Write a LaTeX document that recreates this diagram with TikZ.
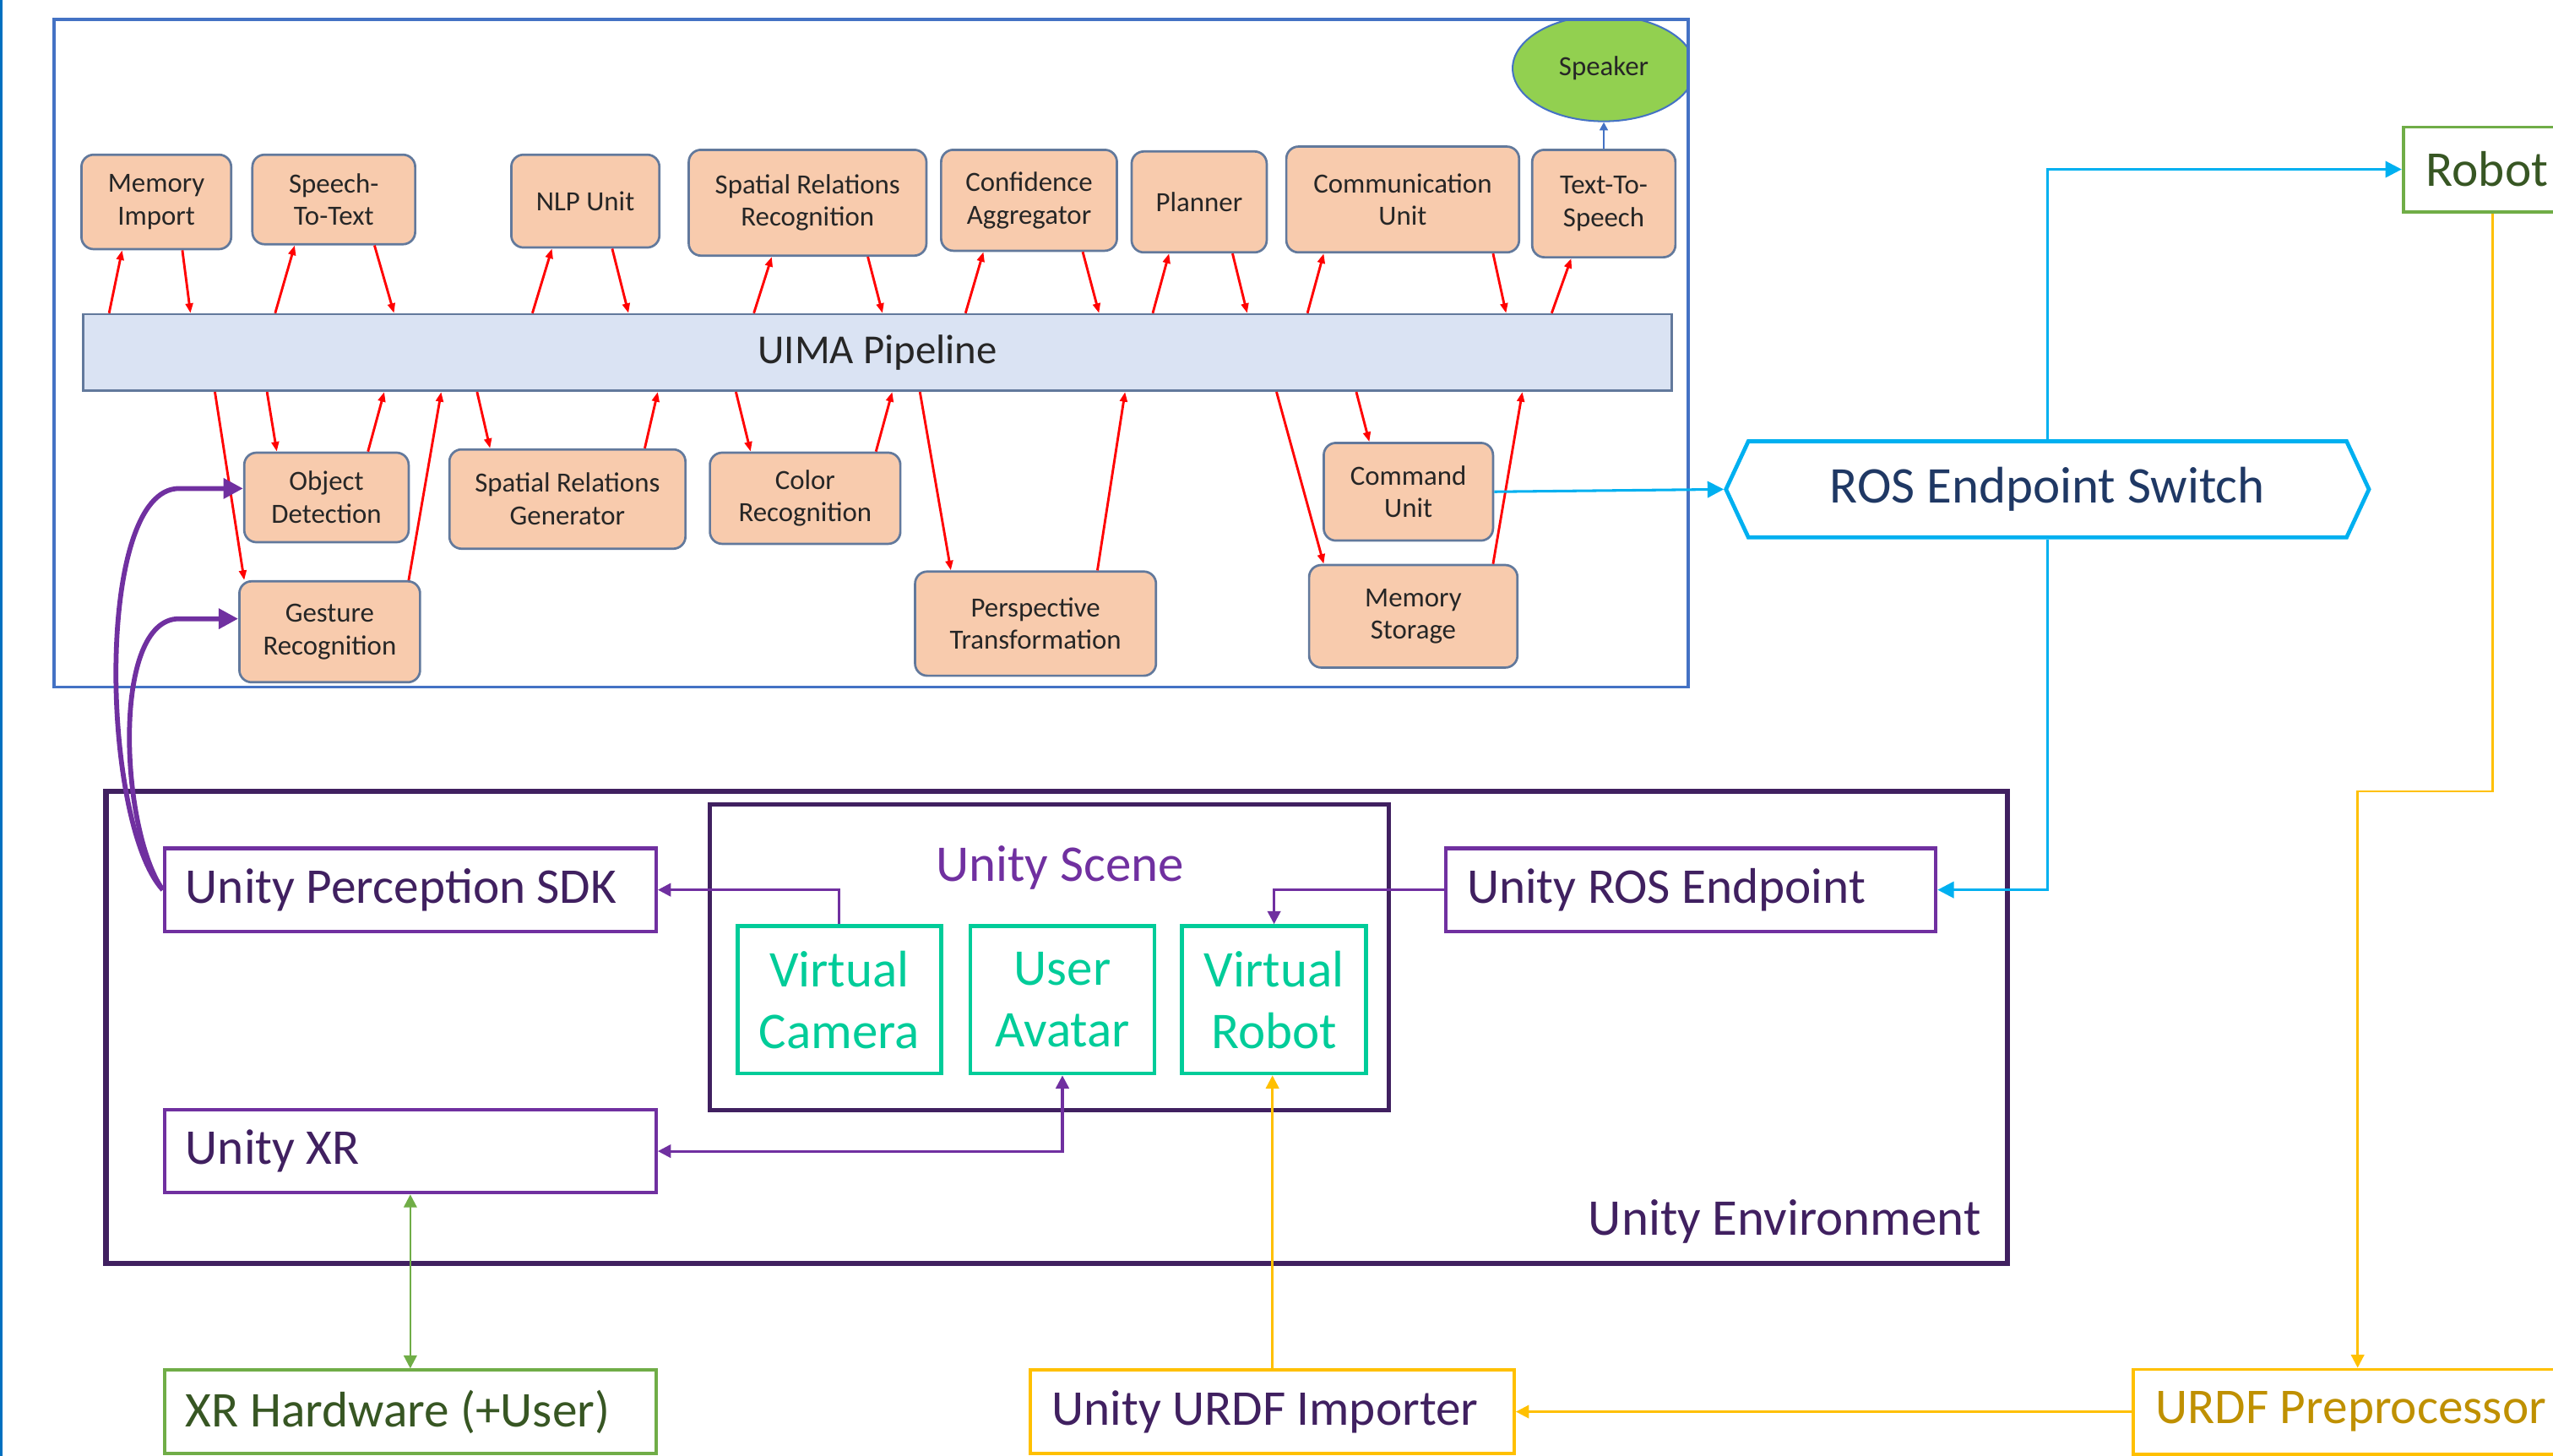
\documentclass[tikz,border=0pt]{standalone}
\usepackage{fontspec}
\setmainfont{Carlito}
\usepackage{tikz}
\usetikzlibrary{arrows.meta,shapes.geometric,shapes.symbols}
\definecolor{PanelBlue}{HTML}{4472C4}
\definecolor{EdgeBlue}{HTML}{0070C0}
\definecolor{BoxOrange}{HTML}{F8CBAD}
\definecolor{BoxEdge}{HTML}{62799C}
\definecolor{BarFill}{HTML}{DAE3F3}
\definecolor{SpeakerGreen}{HTML}{92D050}
\definecolor{LinkRed}{HTML}{FF0000}
\definecolor{RosCyan}{HTML}{00B0F0}
\definecolor{RosNavy}{HTML}{1F3864}
\definecolor{UnityPurple}{HTML}{7030A0}
\definecolor{UnityDark}{HTML}{402060}
\definecolor{SceneTeal}{HTML}{00CC99}
\definecolor{HwGreen}{HTML}{70AD47}
\definecolor{HwDark}{HTML}{375623}
\definecolor{UrdfYellow}{HTML}{FFC000}
\definecolor{UrdfGold}{HTML}{BF9000}

\begin{document}
\begin{tikzpicture}[x=0.02cm, y=-0.02cm,
  every node/.style={font=\fontsize{18}{21.6}\selectfont, inner sep=0pt},
  module/.style={draw=BoxEdge, fill=BoxOrange, line width=0.8pt,
    rounded corners=0.15cm, align=center, text=black!85,
    font=\fontsize{9.7}{11.4}\selectfont},
  ubox/.style={draw=UnityPurple, line width=1.2pt, minimum width=6.04cm,
    minimum height=1.02cm, text width=5.52cm, inner xsep=0.26cm,
    align=flush left, text=UnityDark, font=\fontsize{17.5}{21}\selectfont},
  avatar/.style={draw=SceneTeal, line width=1.4pt, text=SceneTeal,
    align=center, minimum height=1.81cm},
  redarr/.style={draw=LinkRed, line width=0.85pt,
    -{Triangle[length=0.12cm, width=0.09cm]}},
  plink/.style={draw=UnityPurple, line width=0.9pt, ->,
    >={Triangle[length=0.16cm, width=0.16cm]}},
  clink/.style={draw=RosCyan, line width=0.9pt, ->,
    >={Triangle[length=0.2cm, width=0.2cm]}},
  ylink/.style={draw=UrdfYellow, line width=0.75pt, ->,
    >={Triangle[length=0.16cm, width=0.16cm]}},
  glink/.style={draw=HwGreen, line width=0.75pt, <->,
    >={Triangle[length=0.16cm, width=0.16cm]}},
  pcurve/.style={draw=UnityPurple, line width=1.7pt,
    -{Triangle[length=0.24cm, width=0.24cm]}}]
  \useasboundingbox (0,0) rectangle (1568,894);
  \clip (0,0) rectangle (1568,894);
  \draw[EdgeBlue, line width=0.8pt] (0.7,0) -- (0.7,894);

  % UIMA panel
  \begin{scope}
    \clip (33,12) rectangle (1037,422);
    \node[ellipse, draw=PanelBlue, line width=0.6pt, fill=SpeakerGreen,
      minimum width=2.24cm, minimum height=1.3cm, text=black!85,
      font=\fontsize{9.7}{11.4}\selectfont] (spk) at (985,42) {Speaker};
  \end{scope}
  \node[draw=PanelBlue, line width=1.1pt, minimum width=20.08cm,
    minimum height=8.2cm] (panel) at (535,217) {};
  \node[draw=BoxEdge, fill=BarFill, line width=0.8pt, minimum width=19.52cm,
    minimum height=0.94cm, text=black!85, font=\fontsize{14.4}{17}\selectfont]
    (uima) at (539,216.5) {UIMA Pipeline};

  \node[module, minimum width=1.84cm, minimum height=1.16cm] (mi) at (96,124) {Memory\\Import};
  \node[module, minimum width=2.0cm, minimum height=1.1cm] (stt) at (205,122.5) {Speech-\\To-Text};
  \node[module, minimum width=1.82cm, minimum height=1.14cm] (nlp) at (359.5,123.5) {NLP Unit};
  \node[module, minimum width=2.92cm, minimum height=1.3cm] (srr) at (496,124.5) {Spatial Relations\\Recognition};
  \node[module, minimum width=2.16cm, minimum height=1.24cm] (ca) at (632,123) {Confidence\\Aggregator};
  \node[module, minimum width=1.66cm, minimum height=1.24cm] (pl) at (736.5,124) {Planner};
  \node[module, minimum width=2.86cm, minimum height=1.3cm] (cu) at (861.5,122.5) {Communication\\Unit};
  \node[module, minimum width=1.76cm, minimum height=1.32cm] (tts) at (985,125) {Text-To-\\Speech};

  \node[module, minimum width=2.02cm, minimum height=1.1cm] (od) at (200.5,305.5) {Object\\Detection};
  \node[module, minimum width=2.22cm, minimum height=1.24cm] (gr) at (202.5,388) {Gesture\\Recognition};
  \node[module, minimum width=2.9cm, minimum height=1.22cm] (srg) at (348.5,306.5) {Spatial Relations\\Generator};
  \node[module, minimum width=2.34cm, minimum height=1.12cm] (cr) at (494.5,306) {Color\\Recognition};
  \node[module, minimum width=2.96cm, minimum height=1.28cm] (pt) at (636,383) {Perspective\\Transformation};
  \node[module, minimum width=2.08cm, minimum height=1.2cm] (cmd) at (865,302) {Command\\Unit};
  \node[module, minimum width=2.56cm, minimum height=1.26cm] (ms) at (868,378.5) {Memory\\Storage};

  \draw[-{Triangle[length=0.1cm, width=0.1cm]}, PanelBlue, line width=0.7pt] (tts.north) -- (spk.south);

  % pipeline traffic, top row
  \draw[redarr] (uima.north -| 67,0) -- (mi.south -| 75,0);
  \draw[redarr] (mi.south -| 112,0) -- (uima.north -| 117,0);
  \draw[redarr] (uima.north -| 169,0) -- (stt.south -| 181,0);
  \draw[redarr] (stt.south -| 230,0) -- (uima.north -| 242,0);
  \draw[redarr] (uima.north -| 327,0) -- (nlp.south -| 339,0);
  \draw[redarr] (nlp.south -| 376,0) -- (uima.north -| 386,0);
  \draw[redarr] (uima.north -| 463,0) -- (srr.south -| 474,0);
  \draw[redarr] (srr.south -| 533,0) -- (uima.north -| 542,0);
  \draw[redarr] (uima.north -| 593,0) -- (ca.south -| 604,0);
  \draw[redarr] (ca.south -| 665,0) -- (uima.north -| 675,0);
  \draw[redarr] (uima.north -| 708,0) -- (pl.south -| 718,0);
  \draw[redarr] (pl.south -| 757,0) -- (uima.north -| 766,0);
  \draw[redarr] (uima.north -| 803,0) -- (cu.south -| 813,0);
  \draw[redarr] (cu.south -| 917,0) -- (uima.north -| 925,0);
  \draw[redarr] (uima.north -| 953,0) -- (tts.south -| 965,0);

  % pipeline traffic, bottom row
  \draw[redarr] (uima.south -| 132,0) -- (gr.north -| 150,0);
  \draw[redarr] (uima.south -| 164,0) -- (od.north -| 170,0);
  \draw[redarr] (od.north -| 226,0) -- (uima.south -| 236,0);
  \draw[redarr] (gr.north -| 251,0) -- (uima.south -| 271,0);
  \draw[redarr] (uima.south -| 293,0) -- (srg.north -| 301,0);
  \draw[redarr] (srg.north -| 396,0) -- (uima.south -| 404,0);
  \draw[redarr] (uima.south -| 452,0) -- (cr.north -| 461,0);
  \draw[redarr] (cr.north -| 538,0) -- (uima.south -| 548,0);
  \draw[redarr] (uima.south -| 565,0) -- (pt.north -| 584,0);
  \draw[redarr] (pt.north -| 674,0) -- (uima.south -| 691,0);
  \draw[redarr] (uima.south -| 784,0) -- (ms.north -| 813,0);
  \draw[redarr] (uima.south -| 833,0) -- (cmd.north -| 841,0);
  \draw[redarr] (ms.north -| 917,0) -- (uima.south -| 935,0);

  % ROS side
  \node[shape=signal, signal to=east and west, signal pointer angle=130,
    draw=RosCyan, line width=1.4pt, minimum width=7.9cm, minimum height=1.18cm,
    text=RosNavy] (ros) at (1257.5,300.5) {ROS Endpoint Switch};
  \node[draw=HwGreen, line width=1.1pt, minimum width=2.2cm, minimum height=1.04cm,
    text width=1.64cm, inner xsep=0.28cm, align=flush left, text=HwDark,
    font=\fontsize{17.5}{21}\selectfont] (robot) at (1531,104) {Robot};
  \node[draw=UrdfYellow, line width=1.1pt, minimum width=7cm, minimum height=1.04cm,
    text width=6.44cm, inner xsep=0.28cm, align=flush left, text=UrdfGold,
    font=\fontsize{17.5}{21}\selectfont] (urdfp) at (1485,867) {URDF Preprocessor};
  \coordinate (ybend) at (1448,486);

  % Unity side
  \node[draw=UnityDark, line width=2pt, minimum width=23.36cm, minimum height=5.8cm] (env) at (649,631) {};
  \node[anchor=east, text=UnityDark] (envlbl) at (1217,750) {Unity Environment};
  \node[draw=UnityDark, line width=1.4pt, minimum width=8.34cm, minimum height=3.76cm] (scene) at (644.5,588) {};
  \node[text=UnityPurple] (scenelbl) at (651,533) {Unity Scene};
  \node[avatar, minimum width=2.5cm] (vc) at (515.5,614) {Virtual\\Camera};
  \node[avatar, minimum width=2.26cm] (ua) at (652.5,614) {User\\Avatar};
  \node[avatar, minimum width=2.26cm] (vr) at (782.5,614) {Virtual\\Robot};

  \node[ubox] (sdk) at (252,546.5) {Unity Perception SDK};
  \node[ubox] (uxr) at (252,707) {Unity XR};
  \node[ubox, minimum width=6.02cm, text width=5.5cm] (rosep) at (1038.5,546.5) {Unity ROS Endpoint};
  \node[ubox, draw=HwGreen, text=HwDark] (xrh) at (252,867) {XR Hardware (+User)};
  \node[ubox, draw=UrdfYellow, minimum width=5.94cm, text width=5.42cm] (urdfi) at (781.5,867) {Unity URDF Importer};

  % connectors
  \draw[plink] (vc.north) |- (sdk.east);
  \draw[plink] (rosep.west) -| (vr.north);
  \draw[plink, <->] (ua.south) |- (uxr.east);
  \draw[clink] (cmd.east) -- (ros.west);
  \draw[clink] (ros.north) |- (robot.west);
  \draw[clink] (ros.south) |- (rosep.east);
  \draw[ylink] (robot.south) |- (ybend) -- (urdfp.north -| ybend);
  \draw[ylink] (urdfp.west) -- (urdfi.east);
  \draw[ylink] (urdfi.north) -- (urdfi.north |- vr.south);
  \draw[glink] (uxr.south) -- (xrh.north);
  \draw[pcurve] (sdk.west) .. controls (62,505) and (58,300) .. (110,300) -- ([yshift=0.11cm]od.west);
  \draw[pcurve] (sdk.west) .. controls (74,510) and (68,380) .. (110,380) -- ([yshift=0.16cm]gr.west);
\end{tikzpicture}
\end{document}
